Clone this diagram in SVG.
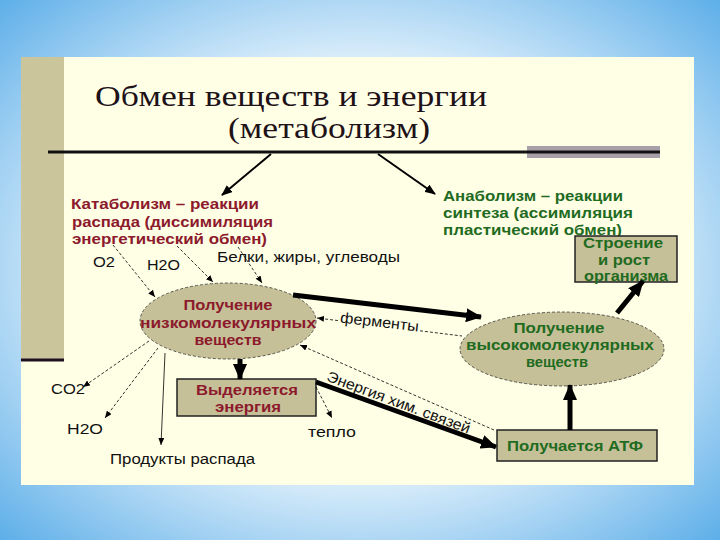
<svg xmlns="http://www.w3.org/2000/svg" width="720" height="540" viewBox="0 0 720 540">
<defs>
<radialGradient id="bg" cx="50%" cy="50%" r="72%">
<stop offset="0" stop-color="#ffffff"/>
<stop offset="0.5" stop-color="#e6f3fc"/>
<stop offset="1" stop-color="#58ace8"/>
</radialGradient>
<marker id="ahBig" markerUnits="userSpaceOnUse" markerWidth="16" markerHeight="14" refX="15" refY="7" orient="auto">
<path d="M0,0 L16,7 L0,14 Z" fill="#000"/>
</marker>
<marker id="ahMid" markerUnits="userSpaceOnUse" markerWidth="11" markerHeight="9" refX="10" refY="4.5" orient="auto">
<path d="M0,0 L11,4.5 L0,9 Z" fill="#000"/>
</marker>
<marker id="ahSmall" markerUnits="userSpaceOnUse" markerWidth="7" markerHeight="6" refX="7" refY="3" orient="auto">
<path d="M0,0 L7,3 L0,6 Z" fill="#000"/>
</marker>
<style>
.sans{font-family:"Liberation Sans",Arial,sans-serif}
.red{fill:#8c1a2c;font-weight:bold;font-size:14.5px}
.green{fill:#1f6b1f;font-weight:bold;font-size:14.5px}
.plain{fill:#111;font-size:14px}
.rot{font-size:15px}
.ell{fill:#c6c098;stroke:#333;stroke-width:0.8;stroke-dasharray:3,2}
.box{fill:#c6c098;stroke:#222;stroke-width:1.5}
.thick{stroke:#000;stroke-width:5;fill:none}
.mid{stroke:#000;stroke-width:2;fill:none}
.thin{stroke:#000;stroke-width:0.8;fill:none;stroke-dasharray:3,2}
.thinsolid{stroke:#000;stroke-width:0.8;fill:none}
</style>
</defs>
<rect x="0" y="0" width="720" height="540" fill="url(#bg)"/>
<rect x="21" y="57" width="673" height="428" fill="#ffffe6"/>
<rect x="21" y="57" width="43" height="303" fill="#cbc59c"/>
<line x1="21" y1="360" x2="64" y2="360" stroke="#201020" stroke-width="3"/>
<rect x="527" y="146" width="133" height="12" fill="#a8a0a8"/>
<line x1="48" y1="152" x2="660" y2="152" stroke="#111" stroke-width="3"/>
<g id="title" font-family="'Liberation Serif','Times New Roman',serif" fill="#1e1218" font-size="30">
<text x="95" y="106" textLength="392" lengthAdjust="spacingAndGlyphs">Обмен веществ и энергии</text>
<text x="228" y="138" textLength="202" lengthAdjust="spacingAndGlyphs">(метаболизм)</text>
</g>
<g id="catabolism" class="sans red">
<text x="71" y="209" textLength="188" lengthAdjust="spacingAndGlyphs">Катаболизм – реакции</text>
<text x="72" y="227" textLength="201" lengthAdjust="spacingAndGlyphs">распада (диссимиляция</text>
<text x="72" y="244" textLength="195" lengthAdjust="spacingAndGlyphs">энергетический обмен)</text>
</g>
<g id="anabolism" class="sans green">
<text x="443" y="201" textLength="180" lengthAdjust="spacingAndGlyphs">Анаболизм – реакции</text>
<text x="443" y="218" textLength="190" lengthAdjust="spacingAndGlyphs">синтеза  (ассимиляция</text>
<text x="443" y="235" textLength="179" lengthAdjust="spacingAndGlyphs">пластический обмен)</text>
</g>
<g id="low-molecular">
<ellipse cx="228" cy="321" rx="88" ry="38" class="ell"/>
<g class="sans red" text-anchor="middle">
<text x="228" y="310" textLength="89" lengthAdjust="spacingAndGlyphs">Получение</text>
<text x="228" y="328" textLength="176" lengthAdjust="spacingAndGlyphs">низкомолекулярных</text>
<text x="228" y="345" textLength="67" lengthAdjust="spacingAndGlyphs">веществ</text>
</g>
</g>
<g id="high-molecular">
<ellipse cx="562" cy="349" rx="102" ry="37" class="ell"/>
<g class="sans green" text-anchor="middle">
<text x="559" y="333" textLength="91" lengthAdjust="spacingAndGlyphs">Получение</text>
<text x="560" y="350" textLength="188" lengthAdjust="spacingAndGlyphs">высокомолекулярных</text>
<text x="557" y="367" textLength="62" lengthAdjust="spacingAndGlyphs">веществ</text>
</g>
</g>
<g id="growth">
<rect x="575" y="236" width="102" height="46" class="box"/>
<g class="sans green" text-anchor="middle">
<text x="623" y="248" textLength="80" lengthAdjust="spacingAndGlyphs">Строение</text>
<text x="624" y="265" textLength="52" lengthAdjust="spacingAndGlyphs">и рост</text>
<text x="626" y="281" textLength="84" lengthAdjust="spacingAndGlyphs">организма</text>
</g>
</g>
<g id="energy-release">
<rect x="177" y="379" width="139" height="37" class="box"/>
<g class="sans red" text-anchor="middle">
<text x="247" y="395" textLength="102" lengthAdjust="spacingAndGlyphs">Выделяется</text>
<text x="248" y="412" textLength="66" lengthAdjust="spacingAndGlyphs">энергия</text>
</g>
</g>
<g id="atp">
<rect x="497" y="430" width="160" height="31" class="box"/>
<text x="575" y="451" class="sans green" text-anchor="middle" textLength="136" lengthAdjust="spacingAndGlyphs">Получается АТФ</text>
</g>
<g id="labels" class="sans plain">
<text x="93" y="267" textLength="22" lengthAdjust="spacingAndGlyphs">O2</text>
<text x="147" y="270" textLength="33" lengthAdjust="spacingAndGlyphs">H2O</text>
<text x="217" y="262" textLength="183" lengthAdjust="spacingAndGlyphs">Белки, жиры, углеводы</text>
<text x="51" y="394" textLength="34" lengthAdjust="spacingAndGlyphs">CO2</text>
<text x="67" y="434" textLength="36" lengthAdjust="spacingAndGlyphs">H2O</text>
<text x="110" y="464" textLength="145" lengthAdjust="spacingAndGlyphs">Продукты распада</text>
<text x="308" y="437" textLength="48" lengthAdjust="spacingAndGlyphs">тепло</text>
<text class="rot" transform="translate(379,327) rotate(6.5)" text-anchor="middle" textLength="79" lengthAdjust="spacingAndGlyphs">ферменты</text>
<text class="rot" transform="translate(397,407) rotate(20.5)" text-anchor="middle" textLength="152" lengthAdjust="spacingAndGlyphs">Энергия хим. связей</text>
</g>
<g id="connectors">
<line x1="271" y1="154" x2="222" y2="195" class="mid" marker-end="url(#ahMid)"/>
<line x1="378" y1="154" x2="435" y2="194" class="mid" marker-end="url(#ahMid)"/>
<line x1="293" y1="295" x2="481" y2="317" class="thick" marker-end="url(#ahBig)"/>
<line x1="617" y1="313" x2="643" y2="281" class="thick" marker-end="url(#ahBig)"/>
<line x1="570" y1="430" x2="570" y2="385" class="thick" marker-end="url(#ahBig)"/>
<line x1="240" y1="359" x2="240" y2="379" class="thick" marker-end="url(#ahBig)"/>
<line x1="316" y1="382" x2="496" y2="447" class="thick" marker-end="url(#ahBig)"/>
<line x1="338" y1="320.6" x2="317" y2="318" class="thin" marker-end="url(#ahSmall)"/>
<line x1="420" y1="330.8" x2="462" y2="336" class="thin"/>
<line x1="494" y1="430" x2="300" y2="345" class="thin" marker-end="url(#ahSmall)"/>
<line x1="113" y1="245" x2="155" y2="297" class="thin" marker-end="url(#ahSmall)"/>
<line x1="177" y1="246" x2="213" y2="282" class="thin" marker-end="url(#ahSmall)"/>
<line x1="238" y1="247" x2="262" y2="283" class="thin" marker-end="url(#ahSmall)"/>
<line x1="149" y1="341" x2="83" y2="387" class="thin" marker-end="url(#ahSmall)"/>
<line x1="158" y1="348" x2="105" y2="418" class="thin" marker-end="url(#ahSmall)"/>
<line x1="165" y1="353" x2="161" y2="445" class="thinsolid" marker-end="url(#ahSmall)"/>
<line x1="316" y1="387" x2="332" y2="418" class="thin" marker-end="url(#ahSmall)"/>
</g>
</svg>
